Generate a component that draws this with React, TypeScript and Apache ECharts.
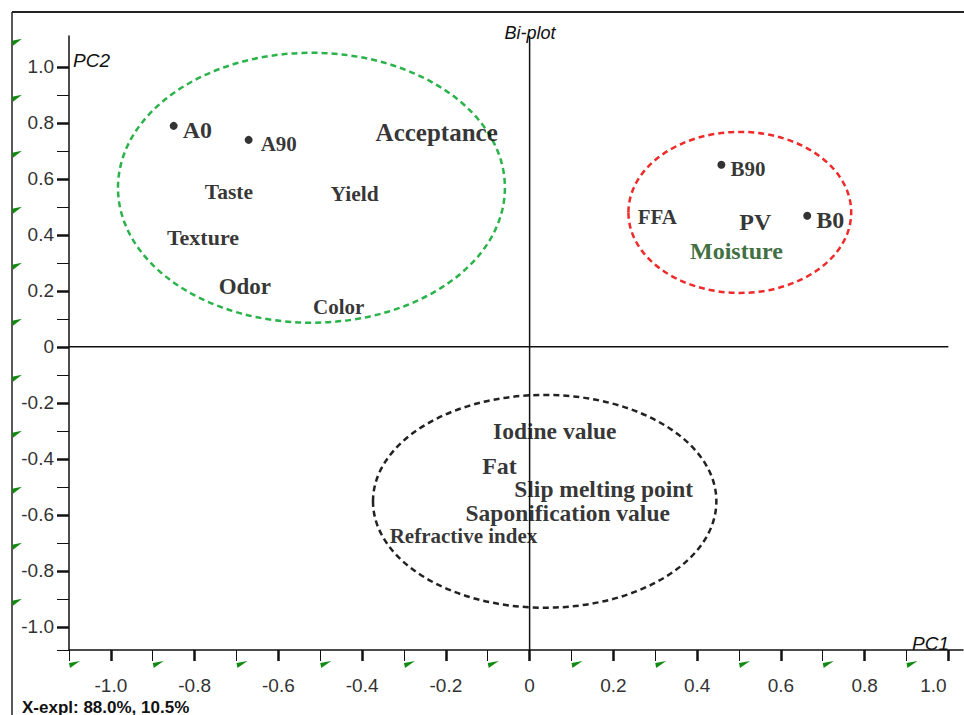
import React, { useEffect, useRef } from "react";
import * as echarts from "echarts";

// ---- data ----
const pointNames = ["A0", "A90", "B90", "B0"];
const pointPC1 = [-0.85, -0.671, 0.458, 0.663];
const pointPC2 = [0.789, 0.739, 0.65, 0.468];
const pointFont = [24, 21, 21, 24];
const pointLabelGap = [5, 8, 5, 5];

const varNames = [
  "Acceptance", "Taste", "Yield", "Texture", "Odor", "Color",
  "FFA", "PV", "Moisture",
  "Iodine value", "Fat", "Slip melting point", "Saponification value", "Refractive index",
];
const varPC1 = [-0.222, -0.718, -0.418, -0.78, -0.68, -0.456, 0.305, 0.539, 0.494, 0.06, -0.072, 0.177, 0.091, -0.158];
const varPC2 = [0.764, 0.554, 0.546, 0.389, 0.214, 0.143, 0.464, 0.446, 0.343, -0.3, -0.425, -0.507, -0.593, -0.675];
const varFont = [25, 21.5, 21.5, 22, 23, 21, 21, 24, 24, 23.5, 24, 23.5, 23.5, 21];
const varColor = ["#000", "#000", "#000", "#000", "#000", "#000", "#000", "#000", "#0d480d", "#000", "#000", "#000", "#000", "#000"];

const ellipseCx = [-0.521, 0.502, 0.036];
const ellipseCy = [0.568, 0.48, -0.552];
const ellipseRx = [0.462, 0.266, 0.41];
const ellipseRy = [0.482, 0.2875, 0.38];
const ellipseColors = ["#2bb34b", "#ee2a2a", "#222222"];

const majorTicks = [-1.0, -0.8, -0.6, -0.4, -0.2, 0, 0.2, 0.4, 0.6, 0.8, 1.0];
const minorTicksX = [-1.1, -0.9, -0.7, -0.5, -0.3, -0.1, 0.1, 0.3, 0.5, 0.7, 0.9];
const minorTicksY = [-1.083, -0.9, -0.7, -0.5, -0.3, -0.1, 0.1, 0.3, 0.5, 0.7, 0.9];
const flagX = [-1.1, -0.9, -0.7, -0.5, -0.3, -0.1, 0.1, 0.3, 0.5, 0.7, 0.9];
const flagY = [1.1, 0.9, 0.7, 0.5, 0.3, 0.1, -0.1, -0.3, -0.5, -0.7, -0.9];

const X_MIN = -1.1;
const X_MAX = 1.035;
const Y_MIN = -1.083;
const Y_MAX = 1.11;

const SANS = "Liberation Sans, Arial, sans-serif";
const SERIF = "Liberation Serif, Times New Roman, serif";

const fmt = (v: number) => (Math.abs(v) < 1e-9 ? "0" : v.toFixed(1));

export default function App() {
  const ref = useRef<HTMLDivElement>(null);
  useEffect(() => {
    if (!ref.current) return;
    const chart = echarts.init(ref.current, null, { renderer: "svg" });
    const option: any = {
      animation: false,
      backgroundColor: "#fff",
      grid: { left: 69, right: 1, top: 36, bottom: 65, containLabel: false },
      xAxis: [
        {
          type: "value", min: X_MIN, max: X_MAX, position: "bottom",
          axisLine: { show: true, onZero: false, lineStyle: { color: "#111", width: 1.5 } },
          axisTick: { show: true, customValues: majorTicks, length: 11, lineStyle: { color: "#111", width: 2.5 } },
          axisLabel: {
            show: true, customValues: majorTicks, margin: 26, fontSize: 19, color: "#333", fontFamily: SANS,
            formatter: (v: number) => (Math.abs(v - 1) < 1e-9 ? "{r|1.0}" : fmt(v)),
            rich: { r: { fontSize: 19, color: "#333", fontFamily: SANS, padding: [0, 30, 0, 0] } },
          },
          splitLine: { show: false },
        },
        {
          type: "value", min: X_MIN, max: X_MAX, position: "bottom",
          axisLine: { show: false, onZero: false },
          axisTick: { show: true, customValues: minorTicksX, length: 11, lineStyle: { color: "#111", width: 1 } },
          axisLabel: { show: false },
          splitLine: { show: false },
        },
      ],
      yAxis: [
        {
          type: "value", min: Y_MIN, max: Y_MAX, position: "left",
          axisLine: { show: true, onZero: false, lineStyle: { color: "#111", width: 1.5 } },
          axisTick: { show: true, customValues: majorTicks, length: 12, lineStyle: { color: "#111", width: 2.5 } },
          axisLabel: {
            show: true, customValues: majorTicks, margin: 15, fontSize: 19, color: "#333", fontFamily: SANS,
            padding: [12, 0, 0, 0], formatter: (v: number) => fmt(v),
          },
          splitLine: { show: false },
        },
        {
          type: "value", min: Y_MIN, max: Y_MAX, position: "left",
          axisLine: { show: false, onZero: false },
          axisTick: { show: true, customValues: minorTicksY, length: 12, lineStyle: { color: "#111", width: 1 } },
          axisLabel: { show: false },
          splitLine: { show: false },
        },
      ],
      graphic: [
        { type: "line", shape: { x1: 12, y1: 12, x2: 964, y2: 12 }, style: { stroke: "#222", lineWidth: 2 } },
        { type: "line", shape: { x1: 12, y1: 12, x2: 12, y2: 715 }, style: { stroke: "#222", lineWidth: 1.5 } },
        { type: "text", x: 530, y: 33, style: { text: "Bi-plot", fill: "#111", font: `italic 18px ${SANS}`, textAlign: "center", textVerticalAlign: "middle" } },
        { type: "text", x: 73, y: 60, style: { text: "PC2", fill: "#111", font: `italic 19px ${SANS}`, textAlign: "left", textVerticalAlign: "middle" } },
        { type: "text", x: 912, y: 643, style: { text: "PC1", fill: "#111", font: `italic 19px ${SANS}`, textAlign: "left", textVerticalAlign: "middle" } },
        { type: "text", x: 22, y: 707, style: { text: "X-expl: 88.0%, 10.5%", fill: "#111", font: `bold 17px ${SANS}`, textAlign: "left", textVerticalAlign: "middle" } },
      ],
      series: [
        {
          type: "line", silent: true, symbol: "none",
          data: [[X_MIN, 0], [1.0, 0]],
          lineStyle: { color: "#111", width: 1.5 },
        },
        {
          type: "line", silent: true, symbol: "none",
          data: [[0, Y_MIN], [0, Y_MAX]],
          lineStyle: { color: "#111", width: 1.5 },
        },
        {
          type: "custom", silent: true,
          data: ellipseCx.map((cx, i) => [cx, ellipseCy[i], ellipseRx[i], ellipseRy[i]]),
          renderItem: (params: any, api: any) => {
            const c = api.coord([api.value(0), api.value(1)]);
            const s = api.size([api.value(2), api.value(3)]);
            return {
              type: "ellipse",
              shape: { cx: c[0], cy: c[1], rx: s[0], ry: s[1] },
              style: { fill: "none", stroke: ellipseColors[params.dataIndex], lineWidth: 2.5, lineDash: [6, 4] },
            };
          },
        },
        {
          type: "custom", silent: true,
          data: flagX.map((v) => [v, Y_MIN]),
          renderItem: (params: any, api: any) => {
            const c = api.coord([api.value(0), api.value(1)]);
            return {
              type: "polygon",
              shape: { points: [[c[0], c[1] + 13], [c[0] + 11, c[1] + 11], [c[0] + 1, c[1] + 18]] },
              style: { fill: "#138a13" },
            };
          },
        },
        {
          type: "custom", silent: true,
          data: flagY.map((v) => [X_MIN, v]),
          renderItem: (params: any, api: any) => {
            const c = api.coord([api.value(0), api.value(1)]);
            const x = c[0] - 57;
            const y = c[1] + 2;
            return {
              type: "polygon",
              shape: { points: [[x, y], [x + 10, y - 2], [x + 1, y + 5]] },
              style: { fill: "#138a13" },
            };
          },
        },
        {
          type: "scatter", silent: true, symbolSize: 8,
          itemStyle: { color: "#000" },
          data: pointNames.map((n, i) => ({
            name: n, value: [pointPC1[i], pointPC2[i]],
            label: { fontSize: pointFont[i], distance: pointLabelGap[i] },
          })),
          label: {
            show: true, position: "right", distance: 5, offset: [0, 4], formatter: "{b}",
            fontFamily: SERIF, fontWeight: "bold", color: "#000",
          },
        },
        {
          type: "scatter", silent: true, symbolSize: 0,
          itemStyle: { color: "#000" },
          data: varNames.map((n, i) => ({
            name: n, value: [varPC1[i], varPC2[i]],
            label: { fontSize: varFont[i], color: varColor[i] },
          })),
          label: {
            show: true, position: "inside", formatter: "{b}",
            fontFamily: SERIF, fontWeight: "bold", color: "#000",
          },
        },
      ],
    };
    chart.setOption(option);
    return () => chart.dispose();
  }, []);
  return (
    <div
      ref={ref}
      style={{ position: "absolute", left: 0, top: 0, width: 964, height: 715 }}
    />
  );
}
